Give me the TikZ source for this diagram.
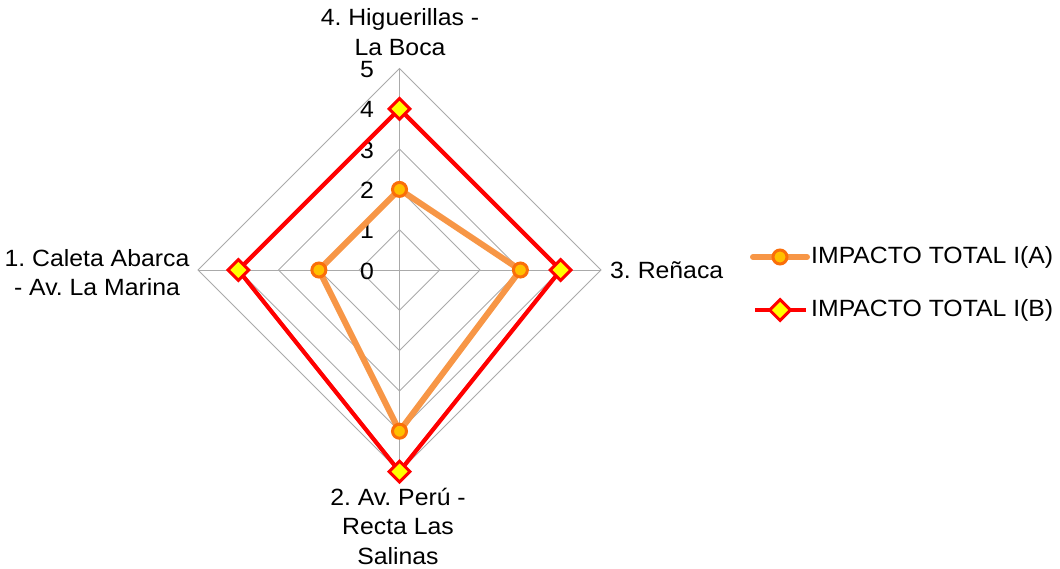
\documentclass[tikz,border=0pt]{standalone}
\usepackage{fontspec}
\setmainfont[FakeStretch=1.055]{Liberation Sans}
\usetikzlibrary{shapes.geometric,calc}
\definecolor{gridgray}{RGB}{170,170,170}
\definecolor{serA}{RGB}{247,150,70}
\definecolor{serAmk}{RGB}{250,110,10}
\definecolor{serAfill}{RGB}{255,192,0}
\definecolor{serB}{RGB}{255,0,0}
\definecolor{serBfill}{RGB}{255,255,0}
\begin{document}
\frenchspacing
\begin{tikzpicture}[x=1pt,y=-1pt,
  font=\fontsize{23.5}{29.5}\selectfont,
  gridline/.style={draw=gridgray,line width=0.9pt},
  lineA/.style={draw=serA,line width=6pt,line join=round},
  lineB/.style={draw=serB,line width=4.2pt,line join=miter},
  mkA/.style={circle,draw=serAmk,fill=serAfill,line width=3pt,minimum size=14pt,inner sep=0pt},
  mkB/.style={diamond,draw=serB,fill=serBfill,line width=3pt,minimum size=22pt,inner sep=0pt},
  axlabel/.style={align=center,inner sep=0pt},
  ticklabel/.style={inner sep=0pt}]
\useasboundingbox (0,0) rectangle (1060,568);
\def\u{40.3}
\coordinate (c) at (399.5,270);
% grid diamonds
\foreach \r in {1,...,5}{
  \draw[gridline] ($(c)+(0,-\r*\u)$) -- ($(c)+(\r*\u,0)$) -- ($(c)+(0,\r*\u)$) -- ($(c)+(-\r*\u,0)$) -- cycle;
}
% axes
\coordinate (top) at ($(c)+(0,-5*\u)$);
\coordinate (right) at ($(c)+(5*\u,0)$);
\coordinate (bottom) at ($(c)+(0,5*\u)$);
\coordinate (left) at ($(c)+(-5*\u,0)$);
\draw[gridline] (c) -- (top);
\draw[gridline] (c) -- (right);
\draw[gridline] (c) -- (bottom);
\draw[gridline] (c) -- (left);
% tick labels
\foreach \k in {0,...,5}{
  \node[ticklabel] (t\k) at ($(367,271)+(0,-\k*\u)$) {\k};
}
% series A: left 2, bottom 4, right 3, top 2
\coordinate (a1) at ($(c)+(-2*\u,0)$);
\coordinate (a2) at ($(c)+(0,4*\u)$);
\coordinate (a3) at ($(c)+(3*\u,0)$);
\coordinate (a4) at ($(c)+(0,-2*\u)$);
\draw[lineA] (a1) -- (a2) -- (a3) -- (a4) -- cycle;
\foreach \p in {a1,a2,a3,a4}{ \node[mkA] (m\p) at (\p) {}; }
% series B: left 4, bottom 5, right 4, top 4
\coordinate (b1) at ($(c)+(-4*\u,0)$);
\coordinate (b2) at ($(c)+(0,5*\u)$);
\coordinate (b3) at ($(c)+(4*\u,0)$);
\coordinate (b4) at ($(c)+(0,-4*\u)$);
\draw[lineB] (b1) -- (b2) -- (b3) -- (b4) -- cycle;
\foreach \p in {b1,b2,b3,b4}{ \node[mkB] (m\p) at (\p) {}; }
% axis labels
\node[axlabel] (l4) at (400,32) {4. Higuerillas -\\La Boca};
\node[axlabel] (l1) at (97,272.5) {1. Caleta Abarca\\- Av. La Marina};
\node[axlabel,anchor=west] (l3) at (610,270) {3. Reñaca};
\node[axlabel] (l2) at (398,526) {2. Av. Perú -\\Recta Las\\Salinas};
% legend
\coordinate (la0) at (753,257);
\coordinate (la1) at (807,257);
\draw[lineA,line cap=round] (la0) -- (la1);
\node[mkA] (lam) at (780,257) {};
\node[anchor=west,inner sep=0pt] (lat) at (811,257) {IMPACTO TOTAL I(A)};
\coordinate (lb0) at (755,310);
\coordinate (lb1) at (806,310);
\draw[lineB] (lb0) -- (lb1);
\node[mkB] (lbm) at (780,310) {};
\node[anchor=west,inner sep=0pt] (lbt) at (811,310) {IMPACTO TOTAL I(B)};
\end{tikzpicture}
\end{document}
